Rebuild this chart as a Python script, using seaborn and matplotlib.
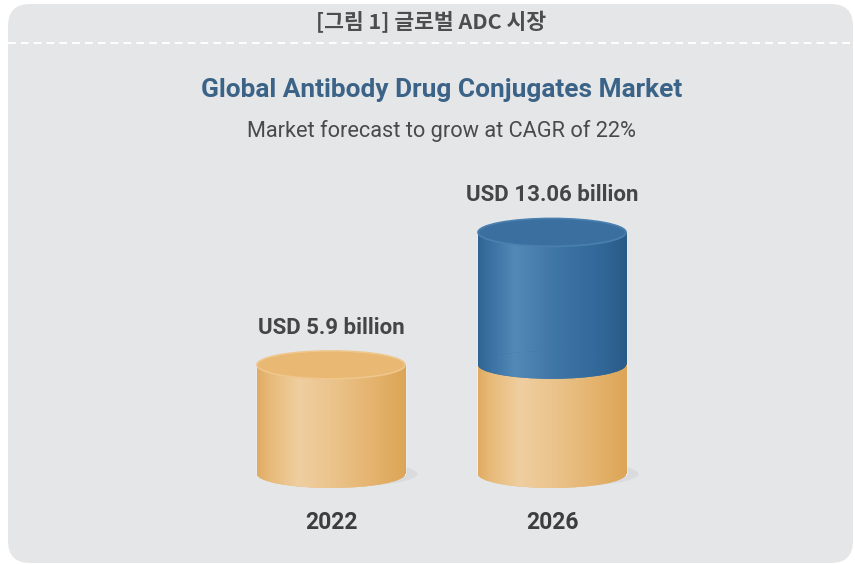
import numpy as np
import matplotlib
matplotlib.use("Agg")
import matplotlib.pyplot as plt
import seaborn as sns
from matplotlib.patches import Ellipse, FancyBboxPatch
from matplotlib.lines import Line2D
from matplotlib.colors import LinearSegmentedColormap
from matplotlib.transforms import IdentityTransform

# ---- data ----
years = ["2022", "2026"]
market_size = [5.9, 13.06]      # USD billion (total height)
base_size = [5.9, 5.9]          # 2022 market level (gold part)
value_labels = ["USD 5.9 billion", "USD 13.06 billion"]
header = "[그림 1] 글로벌 ADC 시장"
title = "Global Antibody Drug Conjugates Market"
subtitle = "Market forecast to grow at CAGR of 22%"

# ---- style ----
sns.set_theme(style="white")
plt.rcParams['font.family'] = ['Roboto', 'DejaVu Sans']

W, H = 855, 564
fig = plt.figure(figsize=(W / 100, H / 100), dpi=100)
fig.patch.set_facecolor('white')

BG = '#e5e6e8'
box = FancyBboxPatch((8, 1), 845, 559, boxstyle="round,pad=0,rounding_size=22",
                     transform=IdentityTransform(), facecolor=BG, edgecolor='none', zorder=0)
fig.add_artist(box)
fig.add_artist(Line2D([8 / W, 853 / W], [1 - 43 / H, 1 - 43 / H], transform=fig.transFigure,
                      color='white', lw=1.4, linestyle=(0, (4.0, 2.6))))

fig.text(431 / W, 1 - 22 / H, header, ha='center', va='center', fontsize=15.5,
         fontweight='bold', color='#4d4d4d',
         family=['Noto Sans CJK KR', 'DejaVu Sans'])
fig.text(442 / W, 1 - 90 / H, title, ha='center', va='center', fontsize=18.9,
         fontweight='bold', color='#3b6387')
fig.text(441 / W, 1 - 131 / H, subtitle, ha='center', va='center', fontsize=15.7,
         color='#4a4a4a')

# ---- axes ----
ylo, yhi = -1.5, 14.5
ax = fig.add_axes([198.4 / W, 1 - 501.75 / H, 486.2 / W, 296 / H])
ax.set_facecolor('none')

GOLD = '#e7bb78'
BLUE = '#3b73a4'
BAR_W = 0.67
ELL_H = 1.51

sns.barplot(x=years, y=market_size, color=BLUE, width=BAR_W, saturation=1, ax=ax, zorder=2)
sns.barplot(x=years, y=base_size, color=GOLD, width=BAR_W, saturation=1, ax=ax, zorder=3)

gold_cmap = LinearSegmentedColormap.from_list(
    'gold', [(0, '#e0ab62'), (0.08, '#e7ba78'), (0.28, '#efcea0'), (0.5, '#ebc48d'),
             (0.8, '#e4b26c'), (1, '#dca556')])
blue_cmap = LinearSegmentedColormap.from_list(
    'blue', [(0, '#2f6593'), (0.1, '#3b74a5'), (0.25, '#5489b6'), (0.5, '#3f77a7'),
             (0.8, '#33699a'), (1, '#2a5b87')])
grad = np.linspace(0, 1, 256).reshape(1, -1)

patches = list(ax.patches)
blue_patches = patches[:2]
gold_patches = patches[2:4]


def shade(patch, cmap, x0, w, y0, y1, z):
    im = ax.imshow(grad, extent=[x0, x0 + w, y0, y1], aspect='auto', cmap=cmap,
                   zorder=z, interpolation='bilinear')
    im.set_clip_path(patch)


for i in range(len(years)):
    gp = gold_patches[i]
    bp = blue_patches[i]
    x0, w = gp.get_x(), gp.get_width()
    xc = x0 + w / 2
    base = base_size[i]
    total = market_size[i]

    # soft shadow
    sh = Ellipse((xc + 0.05, 0), w * 1.02, ELL_H * 0.9, facecolor='#dadbde',
                 edgecolor='none', zorder=1.5)
    ax.add_patch(sh)

    # gold body + bottom ellipse
    shade(gp, gold_cmap, x0, w, 0, base, 3.1)
    e_bot = Ellipse((xc, 0), w, ELL_H, facecolor=GOLD, edgecolor='none', zorder=3.0)
    ax.add_patch(e_bot)
    shade(e_bot, gold_cmap, x0, w, -ELL_H, ELL_H, 3.05)

    if total > base:
        bp.set_visible(True)
        shade(bp, blue_cmap, x0, w, 0, total, 2.1)
        e_b = Ellipse((xc, base), w, ELL_H, facecolor=BLUE, edgecolor='none', zorder=4)
        ax.add_patch(e_b)
        shade(e_b, blue_cmap, x0, w, base - ELL_H, base + ELL_H, 4.05)
        e_t = Ellipse((xc, total), w, ELL_H, facecolor='#3a6f9f', edgecolor='#4a80b0',
                      lw=1.2, zorder=5)
        ax.add_patch(e_t)
    else:
        bp.set_visible(False)
        e_top = Ellipse((xc, base), w, ELL_H, facecolor='#e9b873', edgecolor='#efc68c',
                        lw=1.2, zorder=3.5)
        ax.add_patch(e_top)

    ax.text(i, total + 2.0, value_labels[i], ha='center', va='center',
            fontsize=16, fontweight='bold', color='#454545', clip_on=False)

ax.set_xlim(-0.6, 1.6)
ax.set_ylim(ylo, yhi)
ax.set_xlabel('')
ax.set_ylabel('')
ax.set_yticks([])
ax.set_xticks(range(len(years)))
ax.set_xticklabels(years, fontsize=16.5, fontweight='bold', color='#3d3d3d')
ax.tick_params(axis='x', length=0, pad=7)
for s in ax.spines.values():
    s.set_visible(False)

fig.savefig('out.png', dpi=100, facecolor='white')
